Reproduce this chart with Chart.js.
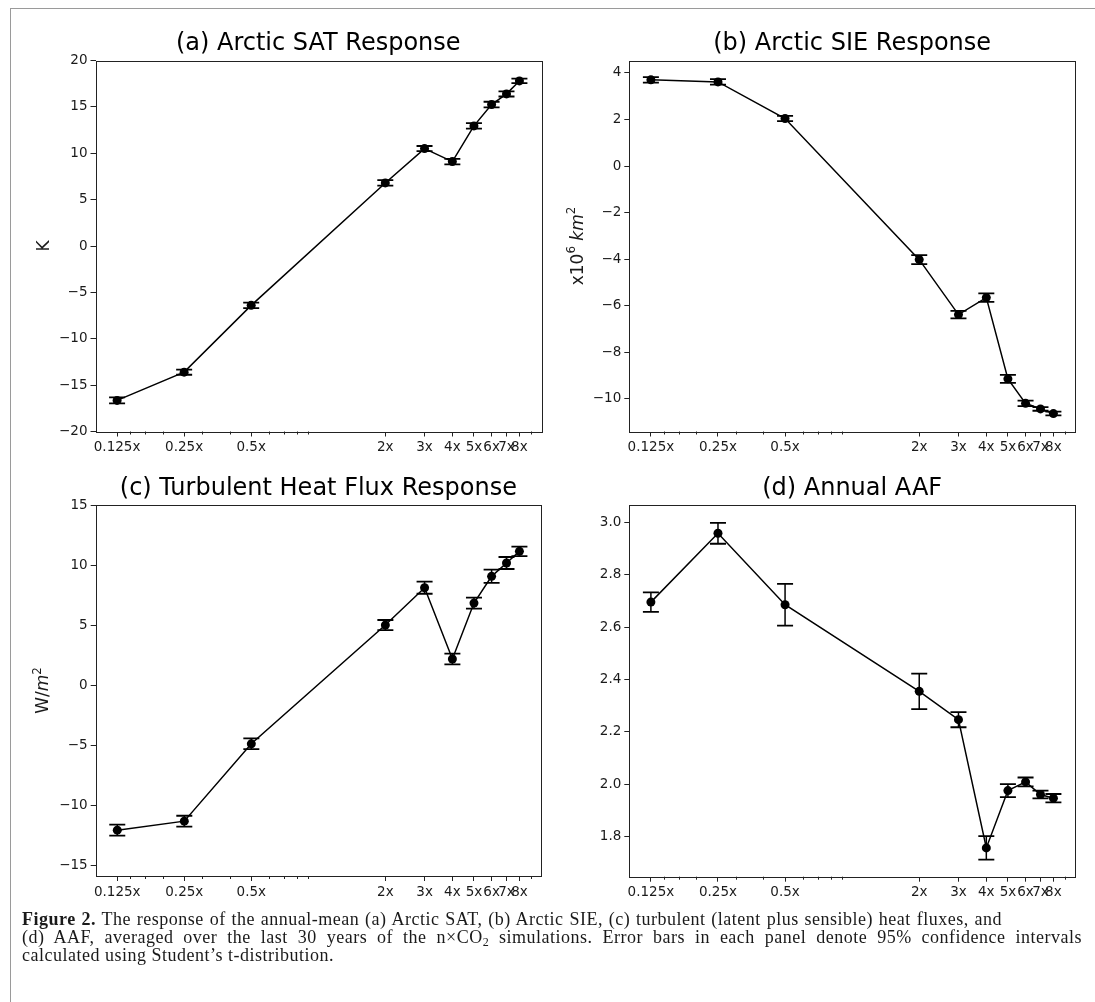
<!DOCTYPE html>
<html>
<head>
<meta charset="utf-8">
<script src="https://cdn.jsdelivr.net/npm/chart.js@4.4.1/dist/chart.umd.min.js"></script>
<style>
  html, body { margin: 0; padding: 0; background: #fff; }
  body { width: 1095px; height: 1002px; position: relative; overflow: hidden; }
  .frame { position: absolute; left: 10px; top: 8px; right: -2px; bottom: -2px;
           border-left: 1px solid #9a9a9a; border-top: 1px solid #9a9a9a; }
  canvas { position: absolute; }
  .caption { position: absolute; left: 22px; top: 910px; width: 1062px;
             font-family: "Liberation Serif", "DejaVu Serif", serif; font-size: 18px;
             letter-spacing: 0.5px; line-height: 18px; color: #1a1a1a; }
  .caption .ln { white-space: nowrap; }
  .caption .just { text-align: justify; text-align-last: justify; }
  .caption sub { font-size: 12px; line-height: 0; vertical-align: -3px; }
</style>
</head>
<body>
<div class="frame"></div>
<canvas id="chartA"></canvas>
<canvas id="chartB"></canvas>
<canvas id="chartC"></canvas>
<canvas id="chartD"></canvas>
<div class="caption">
  <div class="ln just" style="width:980px"><b>Figure 2.</b> The response of the annual-mean (a) Arctic SAT, (b) Arctic SIE, (c) turbulent (latent plus sensible) heat fluxes, and</div>
  <div class="ln just" style="width:1060px">(d) AAF, averaged over the last 30 years of the n×CO<sub>2</sub> simulations. Error bars in each panel denote 95% confidence intervals</div>
  <div class="ln">calculated using Student’s t-distribution.</div>
</div>
<script>
// CO2 multiples on the x axis
const xValues = [0.125, 0.25, 0.5, 2, 3, 4, 5, 6, 7, 8];
const xTickLabels = ["0.125x", "0.25x", "0.5x", "2x", "3x", "4x", "5x", "6x", "7x", "8x"];
const xMinorTicks = [0.143, 0.167, 0.2, 0.3, 0.4, 0.6, 0.7, 0.8, 0.9, 9];

// (a) Arctic SAT response, K
const satValues = [-16.65, -13.6, -6.4, 6.8, 10.5, 9.1, 12.95, 15.25, 16.4, 17.8];
const satErr = [0.32, 0.28, 0.3, 0.3, 0.28, 0.3, 0.3, 0.3, 0.28, 0.25];
const satTicks = [-20, -15, -10, -5, 0, 5, 10, 15, 20];

// (b) Arctic SIE response, x10^6 km^2
const sieValues = [3.70, 3.61, 2.04, -4.02, -6.38, -5.65, -9.14, -10.19, -10.43, -10.63];
const sieErr = [0.12, 0.12, 0.11, 0.19, 0.16, 0.18, 0.17, 0.12, 0.08, 0.08];
const sieTicks = [-10, -8, -6, -4, -2, 0, 2, 4];

// (c) turbulent heat flux response, W/m^2
const fluxValues = [-12.08, -11.33, -4.89, 5.0, 8.11, 2.17, 6.83, 9.06, 10.17, 11.14];
const fluxErr = [0.46, 0.45, 0.45, 0.42, 0.5, 0.45, 0.46, 0.55, 0.5, 0.4];
const fluxTicks = [-15, -10, -5, 0, 5, 10, 15];

// (d) annual AAF
const aafValues = [2.696, 2.959, 2.686, 2.355, 2.247, 1.757, 1.976, 2.009, 1.961, 1.947];
const aafErr = [0.037, 0.04, 0.08, 0.068, 0.029, 0.045, 0.025, 0.017, 0.015, 0.016];
const aafTicks = [1.8, 2.0, 2.2, 2.4, 2.6, 2.8, 3.0];

const FONT = "DejaVu Sans";
const INK = "#1a1a1a";
const TITLE_SIZE = 24;
const TITLE_H = TITLE_SIZE * 1.2 + 2;
const XAXIS_H = 30;
const TICK_SIZE = 13.5;

// error bars, spines, minor ticks and the rich y label
function panelPlugin(p) {
  return {
    id: "panel_" + p.id,
    afterDatasetsDraw(chart) {
      const { ctx, scales: { x, y } } = chart;
      ctx.save();
      ctx.strokeStyle = "#000";
      p.values.forEach((v, i) => {
        const px = x.getPixelForValue(xValues[i]);
        const top = y.getPixelForValue(v + p.errors[i]);
        const bot = y.getPixelForValue(v - p.errors[i]);
        ctx.lineWidth = 1.5;
        ctx.beginPath();
        ctx.moveTo(px, top);
        ctx.lineTo(px, bot);
        ctx.stroke();
        ctx.lineWidth = 1.8;
        ctx.beginPath();
        ctx.moveTo(px - 8, top); ctx.lineTo(px + 8, top);
        ctx.moveTo(px - 8, bot); ctx.lineTo(px + 8, bot);
        ctx.stroke();
      });
      ctx.restore();
    },
    afterDraw(chart) {
      const { ctx, chartArea: a, scales: { x } } = chart;
      ctx.save();
      ctx.strokeStyle = "#222";
      ctx.lineWidth = 1;
      ctx.strokeRect(Math.round(a.left) + 0.5, Math.round(a.top) + 0.5,
                     Math.round(a.right - a.left), Math.round(a.bottom - a.top));
      ctx.beginPath();
      xMinorTicks.forEach(v => {
        const px = Math.round(x.getPixelForValue(v)) + 0.5;
        ctx.moveTo(px, a.bottom);
        ctx.lineTo(px, a.bottom + 3);
      });
      ctx.stroke();

      if (p.yLabel) {
        const size = 17;
        const fontOf = s => (s.italic ? "italic " : "") + (s.sup ? size * 0.7 : size) + "px '" + FONT + "'";
        let total = 0;
        p.yLabel.forEach(s => { ctx.font = fontOf(s); total += ctx.measureText(s.text).width; });
        ctx.translate(p.yLabelX, (a.top + a.bottom) / 2);
        ctx.rotate(-Math.PI / 2);
        ctx.fillStyle = INK;
        ctx.textBaseline = "middle";
        let cx = -total / 2;
        p.yLabel.forEach(s => {
          ctx.font = fontOf(s);
          ctx.fillText(s.text, cx, s.sup ? -size * 0.38 : 0);
          cx += ctx.measureText(s.text).width;
        });
      }
      ctx.restore();
    }
  };
}

function makePanel(p) {
  const canvas = document.getElementById(p.id);
  canvas.width = p.w;
  canvas.height = p.h;
  canvas.style.left = p.left + "px";
  canvas.style.top = p.top + "px";
  canvas.style.width = p.w + "px";
  canvas.style.height = p.h + "px";

  return new Chart(canvas.getContext("2d"), {
    type: "line",
    data: {
      datasets: [{
        data: xValues.map((xv, i) => ({ x: xv, y: p.values[i] })),
        borderColor: "#000",
        borderWidth: 1.5,
        pointRadius: 4.5,
        pointBackgroundColor: "#000",
        pointBorderColor: "#000",
        pointBorderWidth: 0,
        tension: 0,
      }],
    },
    options: {
      responsive: false,
      animation: false,
      events: [],
      layout: {
        padding: {
          left: 0,
          top: p.area.t - TITLE_H,
          right: p.w - p.area.r,
          bottom: p.h - p.area.b - XAXIS_H,
        },
      },
      plugins: {
        legend: { display: false },
        tooltip: { enabled: false },
        title: {
          display: true,
          text: p.title,
          fullSize: false,
          color: "#000",
          font: { family: FONT, size: TITLE_SIZE, weight: "normal", lineHeight: 1.2 },
          padding: { top: 0, bottom: 2 },
        },
      },
      scales: {
        x: {
          type: "logarithmic",
          bounds: "data",
          min: 0.1,
          max: 10,
          afterBuildTicks: s => { s.ticks = xValues.map(v => ({ value: v, major: false })); },
          afterFit: s => { s.height = XAXIS_H; },
          grid: { drawOnChartArea: false, drawTicks: true, tickLength: 5, tickColor: "#222", tickWidth: 1 },
          border: { display: false },
          ticks: {
            autoSkip: false,
            maxRotation: 0,
            minRotation: 0,
            padding: 3,
            color: INK,
            font: { family: FONT, size: TICK_SIZE },
            callback: (v, i) => xTickLabels[i],
          },
        },
        y: {
          type: "linear",
          min: p.yMin,
          max: p.yMax,
          afterBuildTicks: s => { s.ticks = p.yTicks.map(v => ({ value: v })); },
          afterFit: s => { s.width = p.area.l; },
          grid: { drawOnChartArea: false, drawTicks: true, tickLength: 5, tickColor: "#222", tickWidth: 1 },
          border: { display: false },
          ticks: {
            padding: 3,
            color: INK,
            font: { family: FONT, size: TICK_SIZE },
            callback: v => {
              const s = p.decimals ? Math.abs(v).toFixed(p.decimals) : String(Math.abs(v));
              return (v < 0 ? "\u2212" : "") + s;
            },
          },
        },
      },
    },
    plugins: [panelPlugin(p)],
  });
}

document.addEventListener("DOMContentLoaded", () => {
  makePanel({
    id: "chartA", left: 0, top: 0, w: 548, h: 470,
    area: { l: 95.5, t: 60.5, r: 541, b: 431.5 },
    title: "(a) Arctic SAT Response",
    values: satValues, errors: satErr,
    yMin: -20, yMax: 20, yTicks: satTicks,
    yLabel: [{ text: "K" }], yLabelX: 45,
  });

  makePanel({
    id: "chartB", left: 548, top: 0, w: 547, h: 470,
    area: { l: 81.3, t: 60.5, r: 527, b: 431.5 },
    title: "(b) Arctic SIE Response",
    values: sieValues, errors: sieErr,
    yMin: -11.4, yMax: 4.53, yTicks: sieTicks,
    yLabel: [{ text: "x10" }, { text: "6", sup: true }, { text: " " }, { text: "km", italic: true }, { text: "2", sup: true }],
    yLabelX: 30.5,
  });

  makePanel({
    id: "chartC", left: 0, top: 470, w: 548, h: 450,
    area: { l: 95.7, t: 35, r: 541, b: 406 },
    title: "(c) Turbulent Heat Flux Response",
    values: fluxValues, errors: fluxErr,
    yMin: -15.9, yMax: 15, yTicks: fluxTicks,
    yLabel: [{ text: "W/" }, { text: "m", italic: true }, { text: "2", sup: true }], yLabelX: 44,
  });

  makePanel({
    id: "chartD", left: 548, top: 470, w: 547, h: 450,
    area: { l: 81.3, t: 35, r: 527, b: 406.7 },
    title: "(d) Annual AAF",
    values: aafValues, errors: aafErr,
    yMin: 1.647, yMax: 3.067, yTicks: aafTicks, decimals: 1,
  });
});
</script>
</body>
</html>
